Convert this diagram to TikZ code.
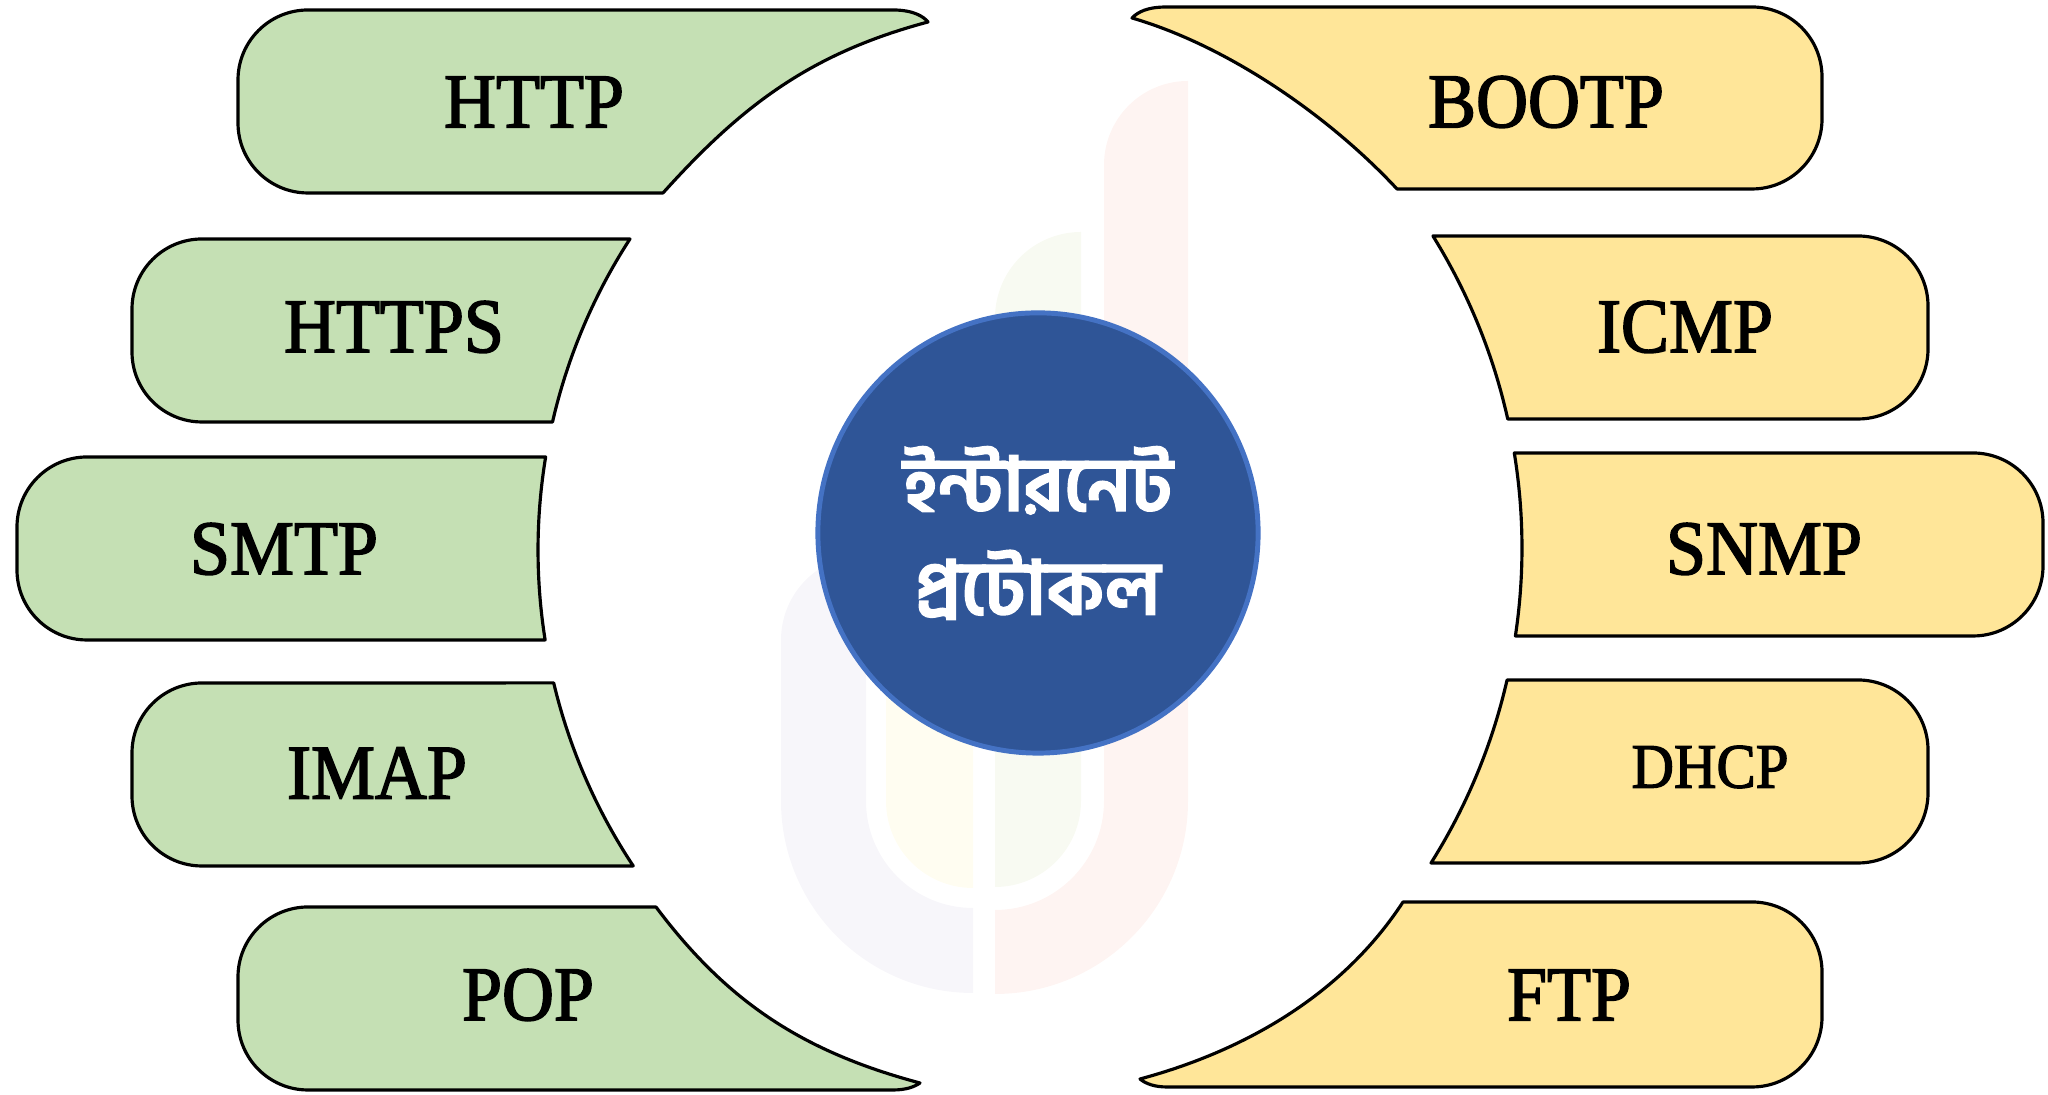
\documentclass[tikz,border=0pt]{standalone}
\usepackage{fontspec}
\usepackage{tikz}
\usetikzlibrary{calc}
\newfontfamily\labelfont{Liberation Serif}[FakeBold=2,FakeStretch=0.93]
\newfontfamily\bnfont[Script=Bengali,FakeBold=1.5]{Hind Siliguri}
\definecolor{colorgreen}{HTML}{C5E0B4}
\definecolor{coloryellow}{HTML}{FFE699}
\definecolor{colorhub}{HTML}{2F5597}
\definecolor{colorring}{HTML}{4472C4}
\definecolor{markgray}{HTML}{F7F6FA}
\definecolor{markpink}{HTML}{FEF4F2}
\definecolor{markyellow}{HTML}{FFFDF1}
\definecolor{markgreen}{HTML}{F8FAF2}

\begin{document}
\begin{tikzpicture}[x=0.01cm, y=0.01cm,
    greenbox/.style={draw=black, fill=colorgreen, line width=0.9pt, line join=round},
    yellowbox/.style={draw=black, fill=coloryellow, line width=0.9pt, line join=round},
    proto/.style={font=\labelfont\fontsize{22}{26}\selectfont, inner sep=0pt}]
    \useasboundingbox (0,0) rectangle (2048,1095);
    \coordinate (L) at (1110,545);
    \coordinate (R) at (931,547);
    % faint logo behind
    \fill[markgray] (973,102) arc[start angle=270, end angle=180, radius=192] -- (781,455)
        arc[start angle=180, end angle=90, radius=85] -- (866,294)
        arc[start angle=180, end angle=270, radius=107] -- cycle;
    \fill[markyellow] (973,207) arc[start angle=270, end angle=180, radius=87] -- (886,560) -- (973,560) -- cycle;
    \fill[markpink] (995,101) arc[start angle=270, end angle=360, radius=193] -- (1188,1014)
        arc[start angle=90, end angle=180, radius=84] -- (1104,294)
        arc[start angle=0, end angle=-90, radius=109] -- cycle;
    \fill[markgreen] (995,208) arc[start angle=270, end angle=360, radius=86] -- (1081,863)
        arc[start angle=90, end angle=180, radius=86] -- cycle;
    % left column
    \draw[greenbox] (663,902) .. controls (743,991) and (812,1042) .. (928,1073)
        .. controls (924,1078) and (914,1085) .. (893,1085) -- (308,1085)
        arc[start angle=90, end angle=180, radius=70] -- (238,972)
        arc[start angle=180, end angle=270, radius=70] -- cycle;
    \draw[greenbox] ($(L)+(147.06:572)$) arc[start angle=147.06, end angle=167.07, radius=572]
        -- (202,673) arc[start angle=270, end angle=180, radius=70] -- (132,786)
        arc[start angle=180, end angle=90, radius=70] -- cycle;
    \draw[greenbox] ($(L)+(170.64:572)$) arc[start angle=170.64, end angle=189.05, radius=572]
        -- (87,455) arc[start angle=270, end angle=180, radius=70] -- (17,568)
        arc[start angle=180, end angle=90, radius=70] -- cycle;
    \draw[greenbox] ($(L)+(193.44:572)$) arc[start angle=193.44, end angle=213.53, radius=572]
        -- (202,229) arc[start angle=270, end angle=180, radius=70] -- (132,342)
        arc[start angle=180, end angle=90, radius=70] -- cycle;
    \draw[greenbox] (656,188) .. controls (728,92) and (804,43) .. (920,12)
        .. controls (914,8) and (906,5) .. (893,5) -- (308,5)
        arc[start angle=270, end angle=180, radius=70] -- (238,118)
        arc[start angle=180, end angle=90, radius=70] -- cycle;
    % right column
    \draw[yellowbox] (1132,1077) .. controls (1228,1049) and (1329,979) .. (1397,906)
        -- (1752,906) arc[start angle=270, end angle=360, radius=70] -- (1822,1018)
        arc[start angle=0, end angle=90, radius=70] -- (1167,1088) .. controls (1147,1088) and (1138,1083) .. (1132,1077) -- cycle;
    \draw[yellowbox] ($(R)+(31.87:591)$) arc[start angle=31.87, end angle=12.61, radius=591]
        -- (1858,676) arc[start angle=270, end angle=360, radius=70] -- (1928,789)
        arc[start angle=0, end angle=90, radius=70] -- cycle;
    \draw[yellowbox] ($(R)+(9.25:591)$) arc[start angle=9.25, end angle=-8.56, radius=591]
        -- (1973,459) arc[start angle=270, end angle=360, radius=70] -- (2043,572)
        arc[start angle=0, end angle=90, radius=70] -- cycle;
    \draw[yellowbox] ($(R)+(-12.91:591)$) arc[start angle=-12.91, end angle=-32.21, radius=591]
        -- (1858,232) arc[start angle=270, end angle=360, radius=70] -- (1928,345)
        arc[start angle=0, end angle=90, radius=70] -- cycle;
    \draw[yellowbox] (1403,193) .. controls (1343,101) and (1246,44.5) .. (1140,16)
        .. controls (1146,11) and (1155,8) .. (1167,8) -- (1752,8)
        arc[start angle=270, end angle=360, radius=70] -- (1822,123)
        arc[start angle=0, end angle=90, radius=70] -- cycle;
    % labels
    \node[proto] (http) at (534,993) {HTTP};
    \node[proto] (https) at (394,768) {HTTPS};
    \node[proto] (smtp) at (284,546) {SMTP};
    \node[proto] (imap) at (377,322) {IMAP};
    \node[proto] (pop) at (528,100) {POP};
    \node[proto] (bootp) at (1546,993) {BOOTP};
    \node[proto] (icmp) at (1685,768) {ICMP};
    \node[proto] (snmp) at (1764,546) {SNMP};
    \node[proto, font=\labelfont\fontsize{18}{22}\selectfont] (dhcp) at (1710,328) {DHCP};
    \node[proto] (ftp) at (1569,100) {FTP};
    % centre
    \node[circle, fill=colorhub, draw=colorring, line width=1.4pt, minimum size=4.4cm, inner sep=0pt,
        align=center, text=white, font=\bnfont\bfseries\fontsize{21.5}{29.5}\selectfont] (hub) at (1038,562)
        {ইন্টারনেট\\প্রটোকল};
\end{tikzpicture}
\end{document}
